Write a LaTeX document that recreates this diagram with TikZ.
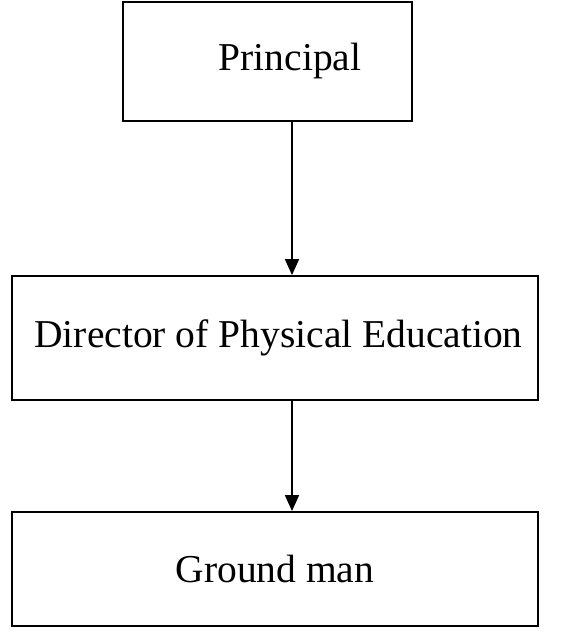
\documentclass[tikz,border=0pt]{standalone}
\usepackage{fontspec}
\setmainfont{Liberation Serif}
\usetikzlibrary{arrows.meta}

\begin{document}
\begin{tikzpicture}[x=1pt, y=1pt,
  box/.style={draw=black, line width=1.8pt, inner sep=0pt, font=\fontsize{39.5}{46}\selectfont},
  link/.style={line width=1.8pt, -{Triangle[length=16pt, width=14pt]}}]

\useasboundingbox (0,0) rectangle (561,641);

\node[box, minimum width=289pt, minimum height=119pt] (principal) at (267.5,579.5) {\hspace{45pt}Principal};
\node[box, minimum width=526pt, minimum height=124pt] (director) at (275,303) {\hspace{7pt}Director of Physical Education};
\node[box, minimum width=526pt, minimum height=114pt] (ground) at (275,72) {Ground man};

\coordinate (axis) at (292,0);

\draw[link] (principal.south -| axis) -- (director.north -| axis);
\draw[link] (director.south -| axis) -- (ground.north -| axis);

\end{tikzpicture}
\end{document}
